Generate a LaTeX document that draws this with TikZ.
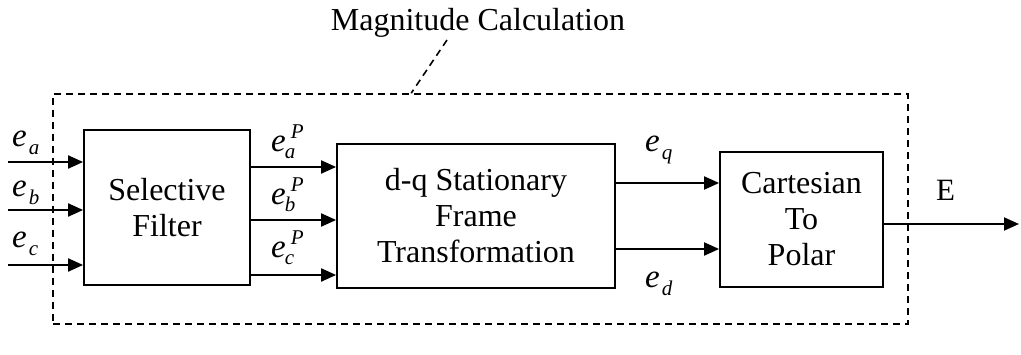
\documentclass[tikz,border=0pt]{standalone}
\usepackage{fontspec}
\setmainfont{Liberation Serif}
\usetikzlibrary{arrows.meta}
\newcommand{\subsz}{\fontsize{21}{21}\selectfont}
\newcommand{\esub}[1]{\textit{e}\kern2pt\raisebox{-8pt}{\subsz\textit{#1}}}
\newcommand{\esubP}[1]{\textit{e}\kern-1pt\rlap{\kern6pt\raisebox{13pt}{\subsz\textit{P}}}\raisebox{-7pt}{\subsz\textit{#1}}}
\tikzset{
  blk/.style={draw, line width=1.8pt, align=center, inner sep=0pt, font=\fontsize{32}{36}\selectfont},
  frm/.style={draw, line width=1.6pt, dash pattern=on 7pt off 5pt, inner sep=0pt},
  arr/.style={line width=2pt, -{Triangle[length=15pt,width=13pt]}},
  lbl/.style={inner sep=0pt, anchor=base west, font=\fontsize{33}{36}\selectfont},
}
\begin{document}
\begin{tikzpicture}[x=1pt,y=-1pt]
\useasboundingbox (0,0) rectangle (1021,355);
% frame
\node[frm, minimum width=855pt, minimum height=230pt] (frame) at (480.5,209) {};
% blocks
\node[blk, minimum width=166pt, minimum height=155pt] (filter) at (167,207.5) {Selective\\Filter};
\node[blk, minimum width=278pt, minimum height=144pt] (dq) at (476,216) {d-q Stationary\\Frame\\Transformation};
\node[blk, minimum width=163pt, minimum height=135pt] (cart) at (801.5,219.5) {Cartesian\\To\\Polar};
% title
\node[inner sep=0pt, font=\fontsize{32}{36}\selectfont] (mag) at (478,23) {Magnitude Calculation};
\coordinate (lt) at (447,40);
\path (frame.north west) ++(359,0) coordinate (lb);
\draw[line width=1.6pt, dash pattern=on 7pt off 5pt] (lt) -- (lb);
% inputs
\coordinate (ia) at (8,162);
\coordinate (ib) at (8,210);
\coordinate (ic) at (8,265);
\draw[arr] (ia) -- (ia -| filter.west);
\draw[arr] (ib) -- (ib -| filter.west);
\draw[arr] (ic) -- (ic -| filter.west);
\node[lbl] (la) at (12,147) {\esub{a}};
\node[lbl] (lb2) at (12,197) {\esub{b}};
\node[lbl] (lc) at (12,248) {\esub{c}};
% filter -> dq
\coordinate (pa) at (250,167);
\coordinate (pb) at (250,220);
\coordinate (pc) at (250,275);
\draw[arr] (filter.east |- pa) -- (pa -| dq.west);
\draw[arr] (filter.east |- pb) -- (pb -| dq.west);
\draw[arr] (filter.east |- pc) -- (pc -| dq.west);
\node[lbl] (lpa) at (271,152) {\esubP{a}};
\node[lbl] (lpb) at (271,205) {\esubP{b}};
\node[lbl] (lpc) at (271,258) {\esubP{c}};
% dq -> cart
\coordinate (q) at (615,183);
\coordinate (d) at (615,249);
\draw[arr] (dq.east |- q) -- (q -| cart.west);
\draw[arr] (dq.east |- d) -- (d -| cart.west);
\node[lbl] (lq) at (645,152) {\esub{q}};
\node[lbl] (ld) at (645,288) {\esub{d}};
% output
\coordinate (out) at (1019,224);
\draw[arr] (cart.east |- out) -- (out);
\node[lbl, font=\fontsize{31}{36}\selectfont] (lE) at (936,201) {E};
\end{tikzpicture}
\end{document}
